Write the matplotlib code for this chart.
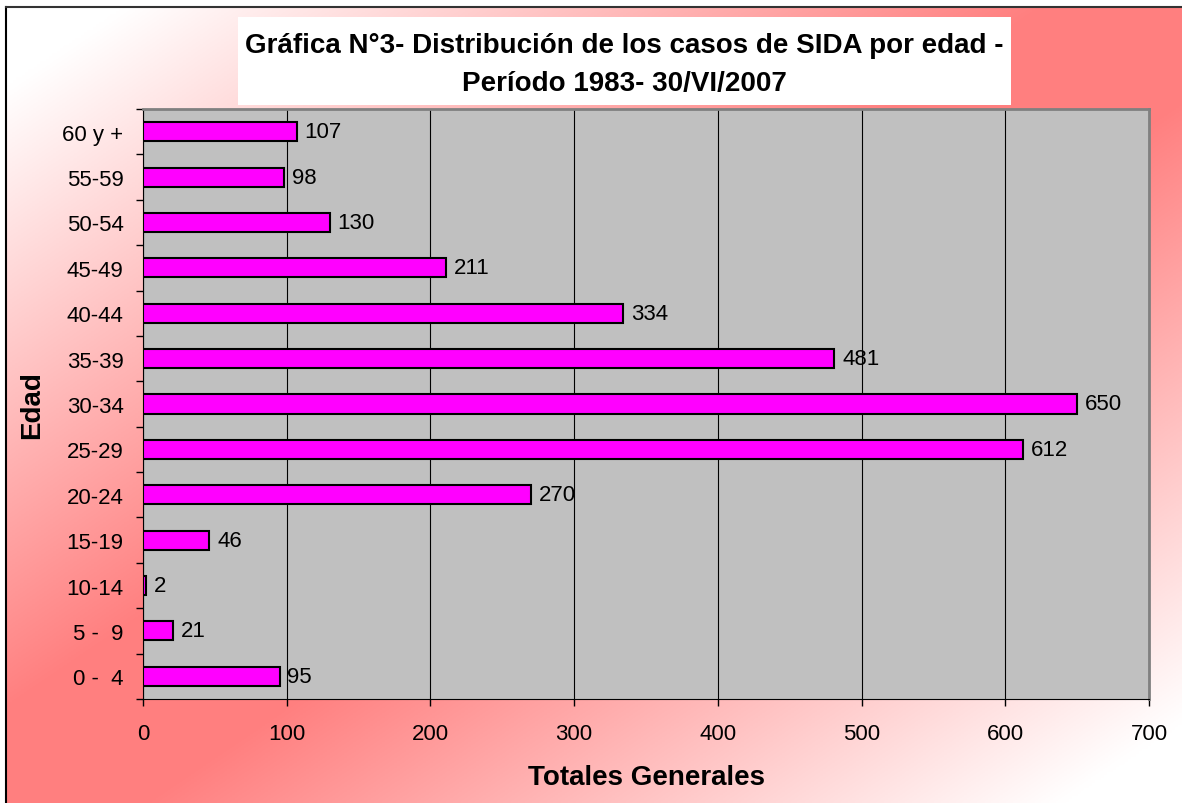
import matplotlib
matplotlib.use('Agg')
import matplotlib.pyplot as plt
from matplotlib.patches import Rectangle
import numpy as np

plt.rcParams['font.family'] = ['Liberation Sans', 'DejaVu Sans']

# datos
edades = ['0 -  4', '5 -  9', '10-14', '15-19', '20-24', '25-29', '30-34',
          '35-39', '40-44', '45-49', '50-54', '55-59', '60 y +']
casos = [95, 21, 2, 46, 270, 612, 650, 481, 334, 211, 130, 98, 107]
titulo1 = 'Gráfica N°3- Distribución de los casos de SIDA por edad -'
titulo2 = 'Período 1983- 30/VI/2007'

W, H = 1182, 804
fig = plt.figure(figsize=(W / 100, H / 100), dpi=100)

# fondo degradado (rojo en la diagonal, blanco en las esquinas)
bg = fig.add_axes([6 / W, 0, 1 - 6 / W, 1 - 8 / H])
u, v = np.meshgrid(np.linspace(0, 1, 400), np.linspace(0, 1, 300))
t = np.abs(u - v)
f = np.clip((t - 0.12) / 0.78, 0, 1)
rojo = np.array([1.0, 0.5, 0.5])
img = rojo[None, None, :] + (1 - rojo[None, None, :]) * f[:, :, None]
bg.imshow(img, extent=[0, 1, 0, 1], origin='lower', aspect='auto')
bg.set_xticks([])
bg.set_yticks([])
bg.spines['left'].set_color('black')
bg.spines['top'].set_color('#333333')
bg.spines['left'].set_linewidth(1.5)
bg.spines['top'].set_linewidth(1.5)
bg.spines['right'].set_visible(False)
bg.spines['bottom'].set_visible(False)

# caja del titulo
fig.patches.append(Rectangle((238 / W, 1 - 106 / H), (1011 - 238) / W, 88 / H,
                             transform=fig.transFigure, facecolor='white',
                             edgecolor='none', zorder=1))
fig.text(624.5 / W, 1 - 46 / H, titulo1, ha='center', va='center',
         fontsize=20, fontweight='bold', zorder=2)
fig.text(624.5 / W, 1 - 84 / H, titulo2, ha='center', va='center',
         fontsize=20, fontweight='bold', zorder=2)

ax = fig.add_axes([143 / W, 1 - 700 / H, 1006 / W, 590 / H])
ax.set_facecolor('#C0C0C0')
y = np.arange(len(edades))
ax.barh(y, casos, height=0.42, color='#FF00FF', edgecolor='black',
        linewidth=1.5, zorder=3)
for yi, c in zip(y, casos):
    ax.text(c + 5.5, yi, str(c), va='center', ha='left', fontsize=16, zorder=4)

ax.set_xlim(0, 700)
ax.set_ylim(-0.5, len(edades) - 0.5)
ax.set_xticks(range(0, 701, 100))
ax.xaxis.grid(True, color='black', linewidth=0.8)
ax.set_axisbelow(True)
ax.set_yticks(y)
ax.set_yticklabels(edades)
ax.set_yticks(np.arange(-0.5, len(edades), 1), minor=True)
ax.tick_params(axis='y', which='major', length=0, pad=14, labelsize=16)
ax.tick_params(axis='y', which='minor', length=5, width=1, direction='out')
ax.tick_params(axis='x', length=5, width=1, direction='out', pad=12, labelsize=16)

ax.spines['left'].set_color('black')
ax.spines['bottom'].set_color('black')
ax.spines['top'].set_color('#808080')
ax.spines['right'].set_color('#808080')
ax.spines['top'].set_linewidth(2)
ax.spines['right'].set_linewidth(2)

ax.set_xlabel('Totales Generales', fontsize=20, fontweight='bold', va='center')
ax.xaxis.set_label_coords(0.5, (700 - 778) / 590)
ax.set_ylabel('Edad', fontsize=20, fontweight='bold', va='center')
ax.yaxis.set_label_coords((32 - 143) / 1006, 0.5)

fig.savefig('out.png', dpi=100)
